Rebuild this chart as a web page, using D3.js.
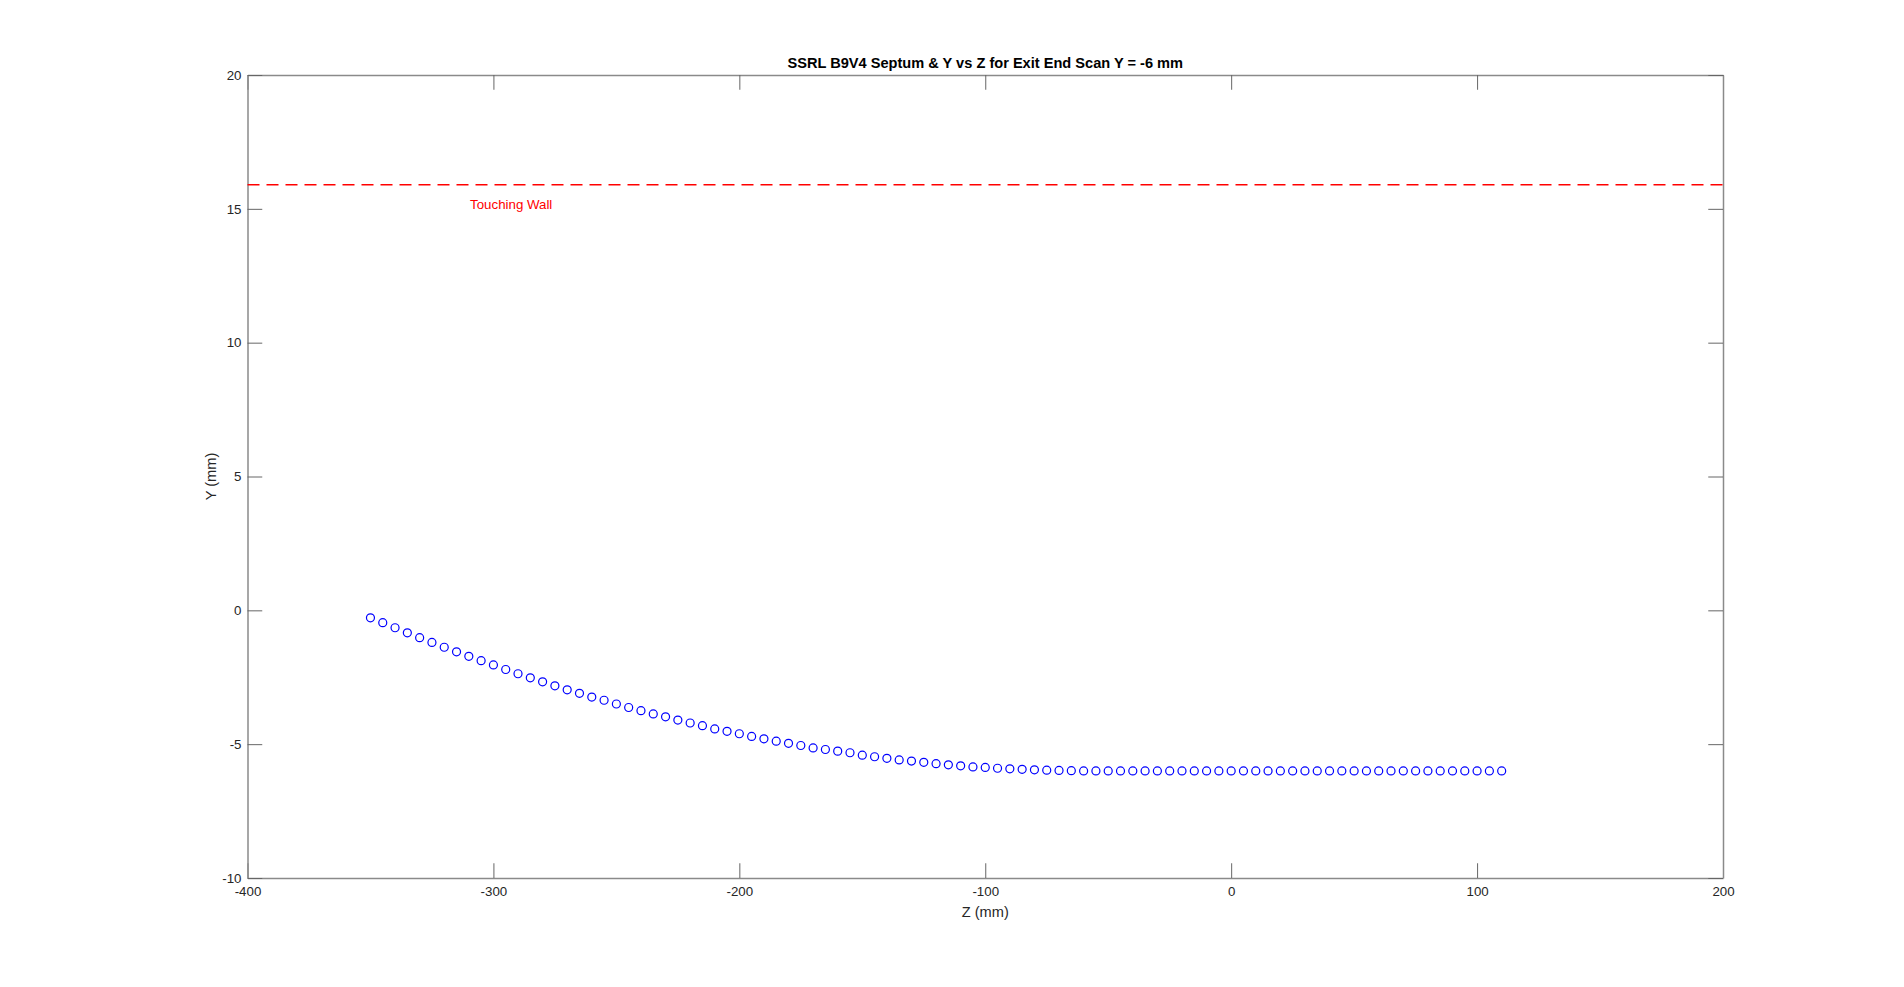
<!DOCTYPE html>
<html>
<head>
<meta charset="utf-8">
<script src="https://cdnjs.cloudflare.com/ajax/libs/d3/7.8.5/d3.min.js"></script>
<style>
  body { margin: 0; background: #fff; }
  text { font-family: "Liberation Sans", Arial, sans-serif; }
</style>
</head>
<body>
<div id="chart"></div>
<script>
// scan positions along Z (mm)
let zValues = [
  -350, -345, -340, -335, -330, -325, -320, -315, -310, -305,
  -300, -295, -290, -285, -280, -275, -270, -265, -260, -255,
  -250, -245, -240, -235, -230, -225, -220, -215, -210, -205,
  -200, -195, -190, -185, -180, -175, -170, -165, -160, -155,
  -150, -145, -140, -135, -130, -125, -120, -115, -110, -105,
  -100, -95, -90, -85, -80, -75, -70, -65, -60, -55,
  -50, -45, -40, -35, -30, -25, -20, -15, -10, -5,
  0, 5, 10, 15, 20, 25, 30, 35, 40, 45,
  50, 55, 60, 65, 70, 75, 80, 85, 90, 95,
  100, 105, 110
]
// beam Y position (mm)
let yValues = [
  -0.28, -0.46, -0.65, -0.84, -1.02, -1.20, -1.38, -1.55, -1.72, -1.88,
  -2.04, -2.21, -2.37, -2.52, -2.67, -2.82, -2.97, -3.10, -3.24, -3.36,
  -3.50, -3.63, -3.75, -3.87, -3.98, -4.10, -4.21, -4.31, -4.43, -4.52,
  -4.61, -4.71, -4.80, -4.89, -4.97, -5.05, -5.14, -5.20, -5.26, -5.32,
  -5.41, -5.47, -5.53, -5.59, -5.63, -5.68, -5.73, -5.77, -5.81, -5.85,
  -5.87, -5.90, -5.92, -5.94, -5.96, -5.97, -5.98, -5.99, -6.00, -6.00,
  -6.00, -6.00, -6.00, -6.00, -6.00, -6.00, -6.00, -6.00, -6.00, -6.00,
  -6.00, -6.00, -6.00, -6.00, -6.00, -6.00, -6.00, -6.00, -6.00, -6.00,
  -6.00, -6.00, -6.00, -6.00, -6.00, -6.00, -6.00, -6.00, -6.00, -6.00,
  -6.00, -6.00, -6.00
]
let xTicks = [-400, -300, -200, -100, 0, 100, 200]
let yTicks = [-10, -5, 0, 5, 10, 15, 20]
let wallY = 15.9
let wallLabel = "Touching Wall"
let wallLabelZ = -309.5
let wallLabelY = 15.0

let W = 1904, H = 987
let margin = { top: 75, right: 181, bottom: 109, left: 247.5 }
let dims = {
  width: W - margin.left - margin.right,
  height: H - margin.top - margin.bottom
}
let tickLen = 14.75

const svg = d3.select("#chart")
  .append("svg")
  .attr("width", W)
  .attr("height", H)
  .style("background", "#fff")

const g = svg.append("g")
  .attr("transform", `translate(${margin.left},${margin.top})`)

let x = d3.scaleLinear().domain([-400, 200]).range([0, dims.width])
let y = d3.scaleLinear().domain([-10, 20]).range([dims.height, 0])

// plain hyphen minus like the original
let fmt = d => String(d)

// axes, ticks pointing inward on all four sides
g.append("g")
  .attr("class", "axis")
  .attr("transform", `translate(0,${dims.height})`)
  .call(d3.axisBottom(x).tickValues(xTicks).tickFormat(fmt).tickSize(-tickLen).tickSizeOuter(0).tickPadding(9))
g.append("g")
  .attr("class", "axis")
  .call(d3.axisTop(x).tickValues(xTicks).tickSize(-tickLen).tickSizeOuter(0).tickFormat(""))
g.append("g")
  .attr("class", "axis")
  .call(d3.axisLeft(y).tickValues(yTicks).tickFormat(fmt).tickSize(-tickLen).tickSizeOuter(0).tickPadding(6))
g.append("g")
  .attr("class", "axis")
  .attr("transform", `translate(${dims.width},0)`)
  .call(d3.axisRight(y).tickValues(yTicks).tickSize(-tickLen).tickSizeOuter(0).tickFormat(""))

g.selectAll(".axis .domain").attr("stroke", "#8a8a8a").attr("stroke-width", 1.5)
g.selectAll(".axis .tick line").attr("stroke", "#666").attr("stroke-width", 1)
g.selectAll(".axis text")
  .attr("fill", "#262626")
  .style("font-size", "13.3px")
  .style("font-family", "'Liberation Sans', Arial, sans-serif")

// touching wall line
g.append("line")
  .attr("x1", x(-400))
  .attr("x2", x(200))
  .attr("y1", y(wallY))
  .attr("y2", y(wallY))
  .attr("stroke", "#ff0000")
  .attr("stroke-width", 1.5)
  .attr("stroke-dasharray", "12,7")

g.append("text")
  .attr("x", x(wallLabelZ))
  .attr("y", y(wallLabelY))
  .attr("fill", "#ff0000")
  .style("font-size", "13.3px")
  .text(wallLabel)

// scan points
let points = zValues.map((z, i) => ({ z: z, y: yValues[i] }))
g.selectAll("circle.pt")
  .data(points)
  .join("circle")
  .attr("class", "pt")
  .attr("cx", d => x(d.z))
  .attr("cy", d => y(d.y))
  .attr("r", 4)
  .attr("fill", "none")
  .attr("stroke", "#0000ff")
  .attr("stroke-width", 1.2)

// title and axis labels
g.append("text")
  .attr("x", dims.width / 2)
  .attr("y", -7)
  .attr("text-anchor", "middle")
  .attr("fill", "#000")
  .style("font-size", "14.6px")
  .style("font-weight", "bold")
  .text("SSRL B9V4 Septum & Y vs Z for Exit End Scan Y = -6 mm")

g.append("text")
  .attr("x", dims.width / 2)
  .attr("y", dims.height + 39)
  .attr("text-anchor", "middle")
  .attr("fill", "#262626")
  .style("font-size", "14.6px")
  .text("Z (mm)")

g.append("text")
  .attr("transform", "rotate(-90)")
  .attr("x", -dims.height / 2)
  .attr("y", -32)
  .attr("text-anchor", "middle")
  .attr("fill", "#262626")
  .style("font-size", "14.6px")
  .text("Y (mm)")
</script>
</body>
</html>
